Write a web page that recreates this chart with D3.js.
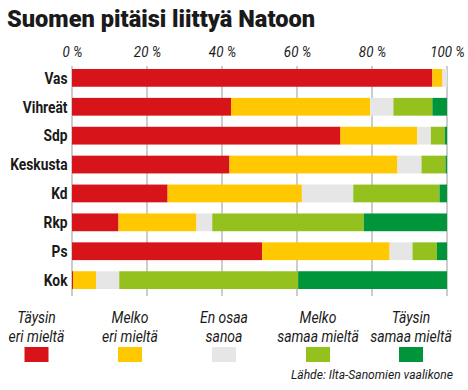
<!DOCTYPE html>
<html>
<head>
<meta charset="utf-8">
<script src="https://cdn.jsdelivr.net/npm/d3@7"></script>
<style>
  body { margin: 0; background: #fff; }
  svg text { font-family: Roboto, "Noto Sans", sans-serif; fill: #1a1a1a; }
</style>
</head>
<body>
<div id="chart"></div>
<script>
// Party names, top to bottom
const parties = ['Vas', 'Vihreät', 'Sdp', 'Keskusta', 'Kd', 'Rkp', 'Ps', 'Kok'];

// Answer categories (legend order, left to right)
const answers = ['tayseri', 'melkoeri', 'eos', 'melkosamaa', 'taysamaa'];
const answerLabels = [
  ['Täysin', 'eri mieltä'],
  ['Melko', 'eri mieltä'],
  ['En osaa', 'sanoa'],
  ['Melko', 'samaa mieltä'],
  ['Täysin', 'samaa mieltä'],
];
const answerColors = ['#d7141a', '#ffc800', '#e6e6e6', '#95c11f', '#00953b'];

// Shares in percent, one array per answer, in party order
const tayseri    = [96.1, 42.4, 71.6, 42.0, 25.5, 12.4, 50.7,  0.3];
const melkoeri   = [ 2.7, 37.1, 20.5, 44.8, 35.8, 20.8, 34.0,  6.1];
const eos        = [ 1.2,  6.2,  3.6,  6.4, 13.7,  4.2,  6.1,  6.2];
const melkosamaa = [ 0.0, 10.4,  3.7,  6.4, 23.0, 40.4,  6.5, 47.7];
const taysamaa   = [ 0.0,  3.9,  0.6,  0.4,  2.0, 22.2,  2.7, 39.7];

const tickValues = [0, 20, 40, 60, 80, 100];

const title = 'Suomen pitäisi liittyä Natoon';
const source = 'Lähde: Ilta-Sanomien vaalikone';

const width = 468;
const height = 390;
const margin = { top: 69, right: 21, bottom: 101, left: 72 };

const svg = d3.select('#chart').append('svg').attr('width', width).attr('height', height);

// squeeze text horizontally, the original uses a condensed face
function condense(sel, factor) {
  sel.each(function () {
    const w = this.getComputedTextLength();
    d3.select(this).attr('textLength', w * factor).attr('lengthAdjust', 'spacingAndGlyphs');
  });
}

// Title
svg.append('text')
  .attr('x', 7)
  .attr('y', 27)
  .attr('textLength', 308)
  .attr('lengthAdjust', 'spacingAndGlyphs')
  .style('font-size', '23px')
  .style('font-weight', '900')
  .text(title);

const table = parties.map((p, i) => {
  const row = { party: p };
  row.tayseri = tayseri[i];
  row.melkoeri = melkoeri[i];
  row.eos = eos[i];
  row.melkosamaa = melkosamaa[i];
  row.taysamaa = taysamaa[i];
  return row;
});

const x = d3.scaleLinear().domain([0, 100]).range([margin.left, width - margin.right]);
const y = d3.scaleBand()
  .domain(parties)
  .range([margin.top - 5.5, height - margin.bottom + 5.5])
  .paddingInner(0.385)
  .paddingOuter(0.19);

const color = d3.scaleOrdinal().domain(answers).range(answerColors);

// Gridlines + ticks
svg.append('g')
  .attr('class', 'grid')
  .selectAll('line')
  .data(tickValues)
  .join('line')
  .attr('x1', (d) => x(d))
  .attr('x2', (d) => x(d))
  .attr('y1', 66)
  .attr('y2', 296)
  .attr('stroke', '#9a9a9a')
  .attr('stroke-width', 1);

// Top axis labels
const axis = d3.axisTop(x).tickValues(tickValues).tickSize(0).tickFormat((d) => `${d} %`);
const axisG = svg.append('g').attr('transform', 'translate(0, 56.5)').call(axis);
axisG.select('.domain').remove();
axisG.selectAll('text')
  .attr('y', 0)
  .attr('dy', 0)
  .attr('font-family', null)
  .attr('font-size', null)
  .style('font-size', '14.5px')
  .style('font-style', 'italic')
  .attr('fill', '#1a1a1a')
  .call(condense, 0.92);

// Stacked bars
const stack = d3.stack().keys(answers);
const series = stack(table);

svg.append('g')
  .selectAll('g')
  .data(series)
  .join('g')
  .attr('fill', (d) => color(d.key))
  .selectAll('rect')
  .data((d) => d)
  .join('rect')
  .attr('x', (d) => x(d[0]))
  .attr('y', (d) => y(d.data.party))
  .attr('width', (d) => Math.max(0, x(d[1]) - x(d[0])))
  .attr('height', y.bandwidth());

// Party labels
svg.append('g')
  .selectAll('text')
  .data(parties)
  .join('text')
  .attr('x', 67.5)
  .attr('y', (d) => y(d) + y.bandwidth() / 2)
  .attr('dy', '0.36em')
  .attr('text-anchor', 'end')
  .style('font-size', '16px')
  .style('font-weight', 'bold')
  .text((d) => d)
  .call(condense, 0.86);

// Legend
const legendX = [36.5, 130, 224, 318, 411];
const legend = svg.append('g')
  .selectAll('g')
  .data(answers)
  .join('g')
  .attr('transform', (d, i) => `translate(${legendX[i]}, 0)`);

legend.append('g')
  .selectAll('text')
  .data((d, i) => answerLabels[i])
  .join('text')
  .attr('x', 0)
  .attr('y', (d, i) => 322.5 + i * 19)
  .attr('text-anchor', 'middle')
  .style('font-size', '16px')
  .style('font-style', 'italic')
  .text((d) => d)
  .call(condense, 0.87);

legend.append('rect')
  .attr('x', -12)
  .attr('y', 347)
  .attr('width', 24)
  .attr('height', 15)
  .attr('fill', (d) => color(d));

// Source
svg.append('text')
  .attr('x', 453)
  .attr('y', 379)
  .attr('text-anchor', 'end')
  .style('font-size', '13px')
  .style('font-style', 'italic')
  .text(source)
  .call(condense, 0.93);
</script>
</body>
</html>
